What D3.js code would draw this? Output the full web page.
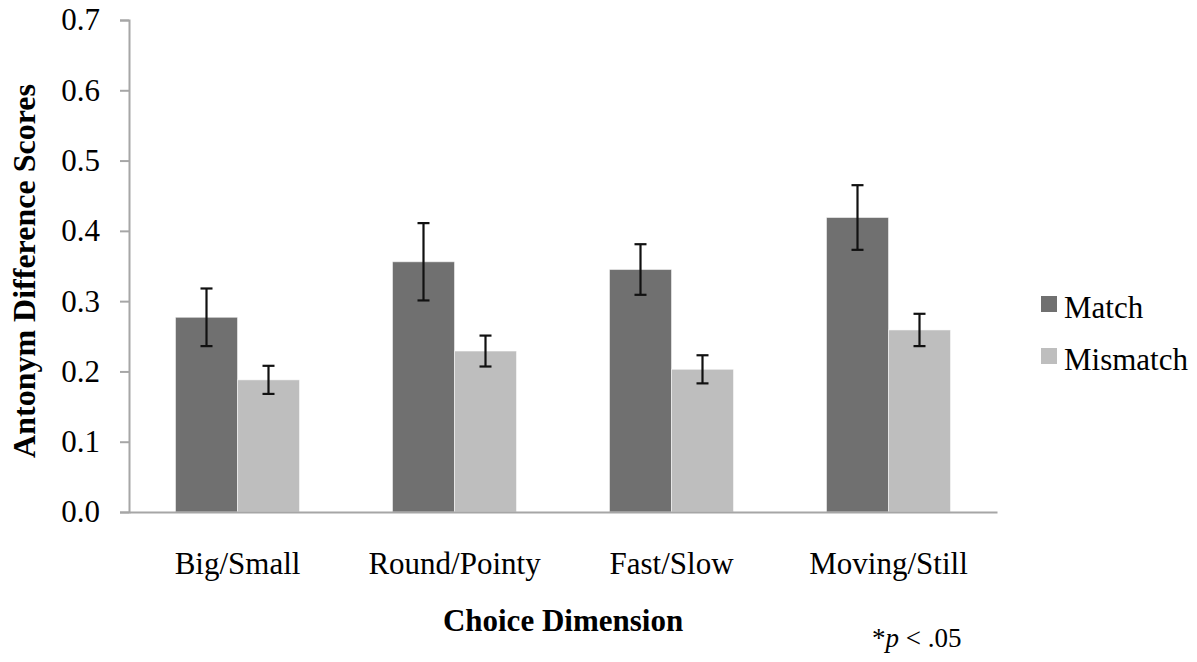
<!DOCTYPE html>
<html>
<head>
<meta charset="utf-8">
<script src="https://cdn.jsdelivr.net/npm/d3@7"></script>
<style>
  body { margin: 0; background: #fff; }
  text { font-family: "Liberation Serif", "Times New Roman", serif; fill: #000; }
</style>
</head>
<body>
<div id="chart"></div>
<script>
// Chart data
const categories = ["Big/Small", "Round/Pointy", "Fast/Slow", "Moving/Still"];
const series = ["Match", "Mismatch"];
const matchValues = [0.277, 0.356, 0.345, 0.419];
const matchErrors = [0.041, 0.055, 0.036, 0.046];
const mismatchValues = [0.188, 0.229, 0.203, 0.259];
const mismatchErrors = [0.020, 0.022, 0.020, 0.023];
const yTicks = [0, 0.1, 0.2, 0.3, 0.4, 0.5, 0.6, 0.7];

const colors = { Match: "#707070", Mismatch: "#bebebe" };

const width = 1197;
const height = 662;
const margin = { top: 20, right: 200, bottom: 150, left: 129 };

const svg = d3
  .select("#chart")
  .append("svg")
  .attr("width", width)
  .attr("height", height);

// Scales
const x0 = d3
  .scaleBand()
  .domain(categories)
  .range([margin.left, 997])
  .padding(0);

const x1 = d3
  .scaleBand()
  .domain(series)
  .range([0, x0.bandwidth()])
  .paddingInner(0)
  .paddingOuter(0.75);

const y = d3
  .scaleLinear()
  .domain([0, 0.7])
  .range([512, 20]);

// Build rows from the arrays
const rows = categories.map((c, i) => ({
  category: c,
  values: [
    { key: "Match", value: matchValues[i], err: matchErrors[i] },
    { key: "Mismatch", value: mismatchValues[i], err: mismatchErrors[i] },
  ],
}));

// Y axis
const yAxis = d3
  .axisLeft(y)
  .tickValues(yTicks)
  .tickSize(9)
  .tickPadding(20)
  .tickFormat(d3.format(".1f"));

const yG = svg
  .append("g")
  .attr("transform", `translate(${margin.left},0)`)
  .call(yAxis);

yG.select(".domain").attr("stroke", "#a6a6a6").attr("stroke-width", 2);
yG.selectAll(".tick line").attr("stroke", "#a6a6a6").attr("stroke-width", 2);
yG.selectAll(".tick text")
  .attr("font-size", "31px")
  .attr("font-family", "Liberation Serif, Times New Roman, serif")
  .attr("fill", "#000");

// Bars
const groups = svg
  .selectAll("g.group")
  .data(rows)
  .enter()
  .append("g")
  .attr("class", "group")
  .attr("transform", (d) => `translate(${x0(d.category)},0)`);

groups
  .selectAll("rect")
  .data((d) => d.values)
  .enter()
  .append("rect")
  .attr("x", (d) => x1(d.key))
  .attr("y", (d) => y(d.value))
  .attr("width", x1.bandwidth())
  .attr("height", (d) => y(0) - y(d.value))
  .attr("fill", (d) => colors[d.key])
  .attr("stroke", "#ffffff")
  .attr("stroke-opacity", 0.5)
  .attr("stroke-width", 1);

// Error bars
const capW = 12;
const errs = groups
  .selectAll("g.err")
  .data((d) => d.values)
  .enter()
  .append("g")
  .attr("class", "err")
  .attr("stroke", "#111")
  .attr("stroke-width", 2.2);

errs
  .append("line")
  .attr("x1", (d) => x1(d.key) + x1.bandwidth() / 2)
  .attr("x2", (d) => x1(d.key) + x1.bandwidth() / 2)
  .attr("y1", (d) => y(d.value + d.err))
  .attr("y2", (d) => y(d.value - d.err));

errs
  .append("line")
  .attr("x1", (d) => x1(d.key) + x1.bandwidth() / 2 - capW / 2)
  .attr("x2", (d) => x1(d.key) + x1.bandwidth() / 2 + capW / 2)
  .attr("y1", (d) => y(d.value + d.err))
  .attr("y2", (d) => y(d.value + d.err));

errs
  .append("line")
  .attr("x1", (d) => x1(d.key) + x1.bandwidth() / 2 - capW / 2)
  .attr("x2", (d) => x1(d.key) + x1.bandwidth() / 2 + capW / 2)
  .attr("y1", (d) => y(d.value - d.err))
  .attr("y2", (d) => y(d.value - d.err));

// X axis (drawn after bars so the line sits on top)
const xAxis = d3.axisBottom(x0).tickSize(0).tickPadding(40);
const xG = svg
  .append("g")
  .attr("transform", `translate(0,${y(0)})`)
  .call(xAxis);

xG.select(".domain").attr("stroke", "#a6a6a6").attr("stroke-width", 2);
xG.selectAll(".tick text")
  .attr("font-size", "31px")
  .attr("font-family", "Liberation Serif, Times New Roman, serif")
  .attr("fill", "#000");

// Axis titles
svg
  .append("text")
  .attr("x", (margin.left + 997) / 2)
  .attr("y", 631)
  .attr("text-anchor", "middle")
  .attr("font-size", "31px")
  .attr("font-weight", "bold")
  .text("Choice Dimension");

svg
  .append("text")
  .attr("transform", `translate(35,271) rotate(-90)`)
  .attr("text-anchor", "middle")
  .attr("font-size", "32px")
  .attr("font-weight", "bold")
  .text("Antonym Difference Scores");

// Legend
const legend = svg
  .append("g")
  .attr("transform", "translate(1041,296)");

const legendItems = legend
  .selectAll("g")
  .data(series)
  .enter()
  .append("g")
  .attr("transform", (d, i) => `translate(0,${i * 52})`);

legendItems
  .append("rect")
  .attr("width", 16)
  .attr("height", 16)
  .attr("fill", (d) => colors[d]);

legendItems
  .append("text")
  .attr("x", 23)
  .attr("y", 22)
  .attr("font-size", "31px")
  .text((d) => d);

// Footnote
const note = svg
  .append("text")
  .attr("x", 872)
  .attr("y", 647)
  .attr("font-size", "27px");
note.append("tspan").text("*");
note.append("tspan").attr("font-style", "italic").text("p");
note.append("tspan").text(" < .05");
</script>
</body>
</html>
